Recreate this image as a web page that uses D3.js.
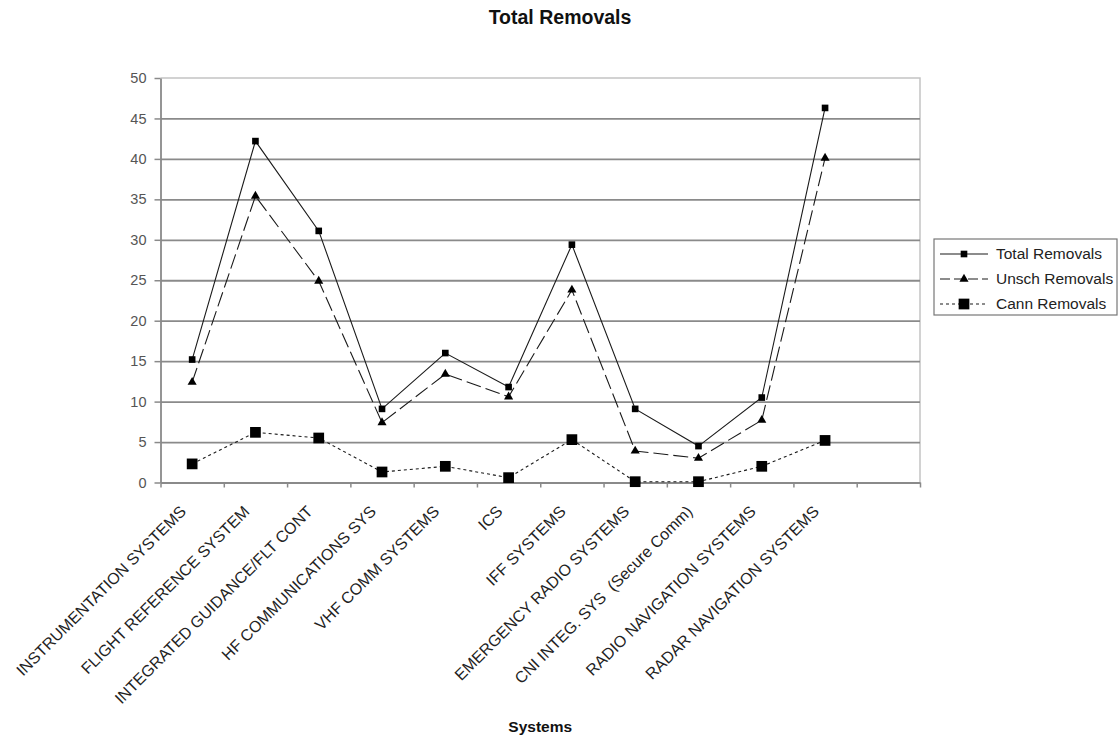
<!DOCTYPE html>
<html>
<head>
<meta charset="utf-8">
<script src="https://cdn.jsdelivr.net/npm/d3@7"></script>
<style>
  html, body { margin: 0; padding: 0; background: #fff; }
  svg { display: block; font-family: Arial, "Liberation Sans", sans-serif; }
</style>
</head>
<body>
<svg id="chart" width="1120" height="740"></svg>
<script>
// Systems on the category axis (one trailing empty slot, as in the sheet)
const categories = [
  "INSTRUMENTATION SYSTEMS",
  "FLIGHT REFERENCE SYSTEM",
  "INTEGRATED GUIDANCE/FLT CONT",
  "HF COMMUNICATIONS SYS",
  "VHF COMM SYSTEMS",
  "ICS",
  "IFF SYSTEMS",
  "EMERGENCY RADIO SYSTEMS",
  "CNI INTEG. SYS  (Secure Comm)",
  "RADIO NAVIGATION SYSTEMS",
  "RADAR NAVIGATION SYSTEMS"
];
const slotCount = 12;

// Removal counts per system
const totalRemovals = [15.2, 42.2, 31.1, 9.1, 16.0, 11.8, 29.4, 9.1, 4.5, 10.5, 46.3];
const unschRemovals = [12.4, 35.4, 24.9, 7.4, 13.4, 10.6, 23.8, 3.9, 3.0, 7.7, 40.1];
const cannRemovals  = [2.3, 6.2, 5.5, 1.3, 2.0, 0.6, 5.3, 0.1, 0.1, 2.0, 5.2];

const yTicks = [0, 5, 10, 15, 20, 25, 30, 35, 40, 45, 50];
const seriesNames = ["Total Removals", "Unsch Removals", "Cann Removals"];

const svg = d3.select("#chart");
const plot = { left: 160.5, right: 920, top: 78, bottom: 482.5 };

const x = d3.scaleBand()
  .domain(d3.range(slotCount))
  .range([plot.left, plot.right])
  .paddingInner(0).paddingOuter(0);
const xEdge = d3.scaleLinear().domain([0, slotCount]).range([plot.left, plot.right]);
const y = d3.scaleLinear().domain([0, 50]).range([plot.bottom, plot.top]);
const cx = i => x(i) + x.bandwidth() / 2;

// Plot frame (light top/right edges)
svg.append("path")
  .attr("d", `M${plot.left},${plot.top}H${plot.right}V${plot.bottom}`)
  .attr("fill", "none").attr("stroke", "#c4c4c4").attr("stroke-width", 1.5);

// Horizontal gridlines
svg.append("g")
  .attr("transform", `translate(${plot.left},0)`)
  .call(d3.axisLeft(y).tickValues(yTicks.filter(v => v > 0 && v < 50))
    .tickSize(-(plot.right - plot.left)).tickFormat(""))
  .call(g => g.select(".domain").remove())
  .call(g => g.selectAll(".tick line").attr("stroke", "#8a8a8a").attr("stroke-width", 1.8));

// Value axis
svg.append("g")
  .attr("transform", `translate(${plot.left},0)`)
  .call(d3.axisLeft(y).tickValues(yTicks).tickSize(6).tickPadding(8).tickSizeOuter(0))
  .call(g => g.select(".domain").attr("stroke", "#8a8a8a").attr("stroke-width", 1.8))
  .call(g => g.selectAll(".tick line").attr("stroke", "#8a8a8a").attr("stroke-width", 1.5))
  .call(g => g.selectAll(".tick text")
    .attr("fill", "#555").attr("font-size", "14.5px")
    .attr("font-family", "Arial, 'Liberation Sans', sans-serif"));

// Category axis with ticks between systems
svg.append("g")
  .attr("transform", `translate(0,${plot.bottom})`)
  .call(d3.axisBottom(xEdge).tickValues(d3.range(slotCount + 1)).tickSize(5).tickFormat("").tickSizeOuter(0))
  .call(g => g.select(".domain").attr("stroke", "#8a8a8a").attr("stroke-width", 1.8))
  .call(g => g.selectAll(".tick line").attr("stroke", "#8a8a8a").attr("stroke-width", 1.5));

// Rotated system names
svg.append("g")
  .selectAll("text")
  .data(categories)
  .join("text")
  .attr("transform", (d, i) => `translate(${cx(i) - 5},${plot.bottom + 30}) rotate(-45)`)
  .attr("text-anchor", "end")
  .attr("font-size", "16px")
  .style("white-space", "pre")
  .attr("fill", "#222")
  .text(d => d);

// Series lines
const line = d3.line().x((d, i) => cx(i)).y(d => y(d));
const ink = "#1a1a1a";

svg.append("path").datum(totalRemovals)
  .attr("d", line).attr("fill", "none").attr("stroke", ink).attr("stroke-width", 1.1);
svg.append("path").datum(unschRemovals)
  .attr("d", line).attr("fill", "none").attr("stroke", ink).attr("stroke-width", 1.1)
  .attr("stroke-dasharray", "15,5");
svg.append("path").datum(cannRemovals)
  .attr("d", line).attr("fill", "none").attr("stroke", ink).attr("stroke-width", 1.1)
  .attr("stroke-dasharray", "3,3");

// Markers
const smallSquare = d3.symbol(d3.symbolSquare, 44);
const bigSquare = d3.symbol(d3.symbolSquare, 115);
const triangle = d3.symbol(d3.symbolTriangle, 36);

svg.append("g").selectAll("path").data(totalRemovals).join("path")
  .attr("transform", (d, i) => `translate(${cx(i)},${y(d)})`)
  .attr("d", smallSquare).attr("fill", "#000");
svg.append("g").selectAll("path").data(unschRemovals).join("path")
  .attr("transform", (d, i) => `translate(${cx(i)},${y(d)})`)
  .attr("d", triangle).attr("fill", "#000");
svg.append("g").selectAll("path").data(cannRemovals).join("path")
  .attr("transform", (d, i) => `translate(${cx(i)},${y(d)})`)
  .attr("d", bigSquare).attr("fill", "#000");

// Titles
svg.append("text")
  .attr("x", 560).attr("y", 24)
  .attr("text-anchor", "middle")
  .attr("font-size", "19.5px").attr("font-weight", "bold")
  .attr("fill", "#111")
  .text("Total Removals");

svg.append("text")
  .attr("x", (plot.left + plot.right) / 2).attr("y", 732)
  .attr("text-anchor", "middle")
  .attr("font-size", "15.5px").attr("font-weight", "bold")
  .attr("fill", "#111")
  .text("Systems");

// Legend
const legend = svg.append("g").attr("transform", "translate(934,239)");
legend.append("rect")
  .attr("width", 183).attr("height", 76)
  .attr("fill", "#fff").attr("stroke", "#777").attr("stroke-width", 1.2);

const legendRows = [
  { name: seriesNames[0], dash: null, symbol: smallSquare },
  { name: seriesNames[1], dash: "10,4", symbol: triangle },
  { name: seriesNames[2], dash: "3,3", symbol: bigSquare }
];
const rows = legend.selectAll("g.row").data(legendRows).join("g")
  .attr("class", "row")
  .attr("transform", (d, i) => `translate(0,${15 + i * 25})`);
rows.append("line")
  .attr("x1", 6).attr("x2", 54).attr("y1", 0).attr("y2", 0)
  .attr("stroke", ink).attr("stroke-width", 1.1)
  .attr("stroke-dasharray", d => d.dash);
rows.append("path")
  .attr("transform", "translate(30,0)")
  .attr("d", d => d.symbol()).attr("fill", "#000");
rows.append("text")
  .attr("x", 62).attr("y", 0).attr("dy", "0.35em")
  .attr("font-size", "15.5px")
  .attr("fill", "#222")
  .text(d => d.name);
</script>
</body>
</html>
